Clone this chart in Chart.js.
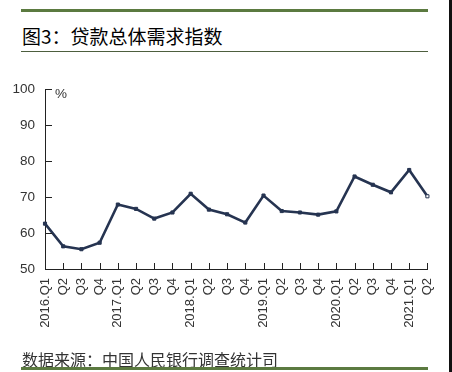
<!DOCTYPE html>
<html lang="zh">
<head>
    <meta charset="UTF-8">
    <title>贷款总体需求指数</title>
    <script src="https://cdn.jsdelivr.net/npm/chart.js"></script>
    <style>
        html, body { margin: 0; padding: 0; background: #fff; }
        #wrap { position: relative; width: 452px; height: 372px; overflow: hidden; }
        #chart { position: absolute; left: 0; top: 0; }
        .bar { position: absolute; left: 21px; width: 407px; background: #5b7a40; }
        #title { position: absolute; left: 22px; top: 22px; font: 19px "Noto Sans CJK SC"; color: #000; white-space: nowrap; }
        #source { position: absolute; left: 22px; top: 347px; font: 16px "Noto Sans CJK SC"; color: #333; white-space: nowrap; }
        #unit { position: absolute; left: 55px; top: 86px; font: 13.5px "Liberation Sans"; color: #333; }
        #edge { position: absolute; right: 0; top: 0; width: 3px; height: 372px; background: #111; }
    </style>
</head>
<body>
<div id="wrap">
    <div class="bar" style="top:9px;height:3px"></div>
    <div id="title">图3：贷款总体需求指数</div>
    <div class="bar" style="top:51px;height:1px;background:#4d5e3e"></div>
    <canvas id="chart" width="452" height="372"></canvas>
    <div id="unit">%</div>
    <div id="source">数据来源：中国人民银行调查统计司</div>
    <div class="bar" style="top:367px;height:3px"></div>
    <div id="edge"></div>
</div>
<script>
    // quarters 2016.Q1 - 2021.Q2
    const quarters = ['2016.Q1', 'Q2', 'Q3', 'Q4',
        '2017.Q1', 'Q2', 'Q3', 'Q4',
        '2018.Q1', 'Q2', 'Q3', 'Q4',
        '2019.Q1', 'Q2', 'Q3', 'Q4',
        '2020.Q1', 'Q2', 'Q3', 'Q4',
        '2021.Q1', 'Q2'];
    const demandIndex = [62.6, 56.3, 55.5, 57.3,
        67.9, 66.7, 64.0, 65.7,
        70.9, 66.5, 65.2, 62.9,
        70.4, 66.1, 65.7, 65.1,
        66.0, 75.7, 73.4, 71.3,
        77.5, 70.2];
    const yMin = 50, yMax = 100, yStep = 10;

    const lineColor = '#263451';
    const axisColor = '#222';

    // short tick marks pointing into the plot
    const innerTicks = {
        id: 'innerTicks',
        afterDraw(chart) {
            const ctx = chart.ctx;
            const x = chart.scales.x, y = chart.scales.y;
            const area = chart.chartArea;
            ctx.save();
            ctx.strokeStyle = axisColor;
            ctx.lineWidth = 1;
            ctx.beginPath();
            y.ticks.forEach(t => {
                const py = Math.round(y.getPixelForValue(t.value)) + 0.5;
                ctx.moveTo(area.left, py);
                ctx.lineTo(area.left + 7, py);
            });
            for (let i = 1; i < quarters.length; i++) {
                const px = Math.round(x.getPixelForValue(i)) + 0.5;
                ctx.moveTo(px, area.bottom);
                ctx.lineTo(px, area.bottom - 6);
            }
            ctx.stroke();
            ctx.restore();
        }
    };

    const pointFill = demandIndex.map((v, i) => i === demandIndex.length - 1 ? '#fff' : lineColor);

    new Chart(document.getElementById('chart').getContext('2d'), {
        type: 'line',
        data: {
            labels: quarters,
            datasets: [{
                data: demandIndex,
                borderColor: lineColor,
                borderWidth: 2.6,
                tension: 0,
                pointStyle: 'rect',
                pointRadius: 2.2,
                pointBorderWidth: 1,
                pointBorderColor: lineColor,
                pointBackgroundColor: pointFill
            }]
        },
        plugins: [innerTicks],
        options: {
            responsive: false,
            animation: false,
            layout: { padding: { left: 5, right: 15, top: 89, bottom: 43 } },
            plugins: { legend: { display: false }, tooltip: { enabled: false } },
            scales: {
                x: {
                    offset: false,
                    grid: { display: true, drawOnChartArea: false, drawTicks: false },
                    border: { display: true, color: axisColor, width: 1 },
                    ticks: {
                        minRotation: 90, maxRotation: 90, autoSkip: false,
                        padding: 9,
                        color: '#333',
                        font: { family: 'Liberation Sans', size: 13 }
                    },
                    afterFit(scale) { scale.height = 60; }
                },
                y: {
                    min: yMin, max: yMax,
                    grid: { display: true, drawOnChartArea: false, drawTicks: false },
                    border: { display: true, color: axisColor, width: 1 },
                    ticks: {
                        stepSize: yStep,
                        padding: 10,
                        color: '#333',
                        font: { family: 'Liberation Sans', size: 13.5 }
                    },
                    afterFit(scale) { scale.width = 40; }
                }
            }
        }
    });
</script>
</body>
</html>
